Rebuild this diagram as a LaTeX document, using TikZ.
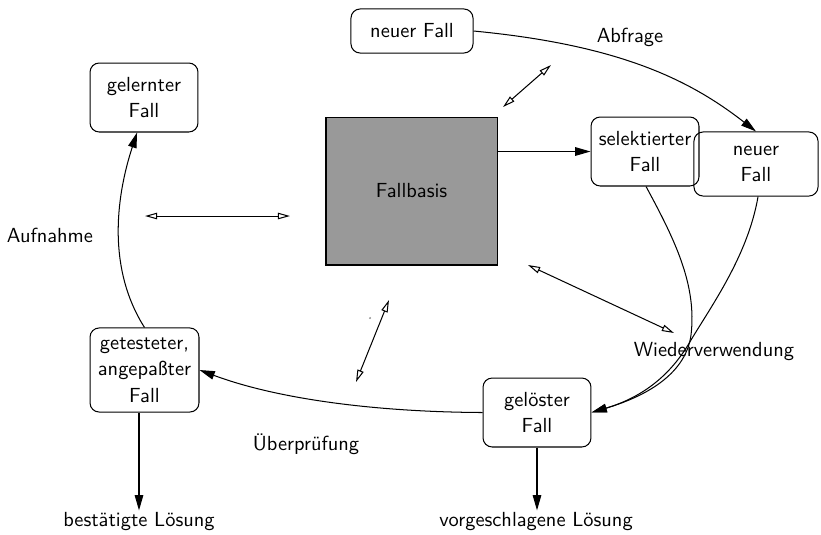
\documentclass[tikz,border=0pt]{standalone}
\usepackage{fontspec}
\usetikzlibrary{arrows.meta}
\begin{document}
\begin{tikzpicture}[x=0.49pt,y=-0.49pt,
  every node/.style={font=\sffamily\fontsize{10}{13}\selectfont},
  box/.style={draw, rounded corners=4.5pt, align=center, inner sep=0pt, line width=0.5pt},
  lbl/.style={inner sep=1pt},
  flow/.style={line width=0.5pt, -{Triangle[length=7.5pt,width=4.2pt]}},
  link/.style={line width=0.5pt, {Triangle[open,length=6pt,width=3.2pt]}-{Triangle[open,length=6pt,width=3.2pt]}}
]
\useasboundingbox (0,0) rectangle (821,534);
% nodes
\node[box, minimum width=59.8pt, minimum height=21.6pt] (nf1) at (412,31) {neuer Fall};
\node[draw, fill=black!40, minimum width=83.8pt, minimum height=72.5pt, line width=0.5pt] (fb) at (411.5,191) {Fallbasis};
\node[box, minimum width=52.9pt, minimum height=33.8pt] (sel) at (645,151.5) {selektierter\\Fall};
\node[box, minimum width=60.8pt, minimum height=31.4pt] (nf2) at (756,164) {neuer\\Fall};
\node[box, minimum width=52.9pt, minimum height=33.8pt] (gl) at (144,97.5) {gelernter\\Fall};
\node[box, minimum width=53.4pt, minimum height=41.2pt] (gt) at (144.5,370) {getesteter,\\angepaßter\\Fall};
\node[box, minimum width=52.9pt, minimum height=33.8pt] (gs) at (537,412.5) {gelöster\\Fall};
% labels
\node[lbl] (best) at (139,522) {bestätigte Lösung};
\node[lbl] (vorg) at (536,522) {vorgeschlagene Lösung};
\node[lbl] (ueb) at (306,444) {Überprüfung};
\node[lbl] (auf) at (50,235) {Aufnahme};
\node[lbl] (abf) at (630,37) {Abfrage};
\node[lbl] (wie) at (714,352) {Wiederverwendung};
% flow connectors
\draw[flow] (nf1.east) .. controls (620,45) and (690,80) .. (nf2.north);
\draw[flow] (fb.east |- sel.west) -- (sel.west);
\draw[flow] ([xshift=0.5pt]sel.south) .. controls (675,240) and (697,285) .. (691,335)
            .. controls (686,372) and (650,395) .. (gs.east);
\draw[flow] ([xshift=1pt]nf2.south) .. controls (748,255) and (712,305) .. (691,340)
            .. controls (675,368) and (650,395) .. (gs.east);
\draw[flow] (gs.west) .. controls (380,412) and (280,400) .. (gt.east);
\draw[flow] (gt.north) .. controls (108,270) and (115,200) .. ([xshift=-3.4pt]gl.south);
\draw[flow] (gt.south -| best.north) -- (best.north);
\draw[flow] (gs.south) -- (gs.south |- vorg.north);
% double links
\coordinate (a1) at (503,107); \coordinate (a2) at (551,65);
\coordinate (b1) at (145,216); \coordinate (b2) at (290,216);
\coordinate (c1) at (528,265); \coordinate (c2) at (674,333);
\coordinate (d1) at (389,300); \coordinate (d2) at (356,382);
\draw[link] (a1) -- (a2);
\draw[link] (b1) -- (b2);
\draw[link] (c1) -- (c2);
\draw[link] (d1) -- (d2);
\fill[black!45] (370,318) circle (0.5pt);
\end{tikzpicture}
\end{document}
